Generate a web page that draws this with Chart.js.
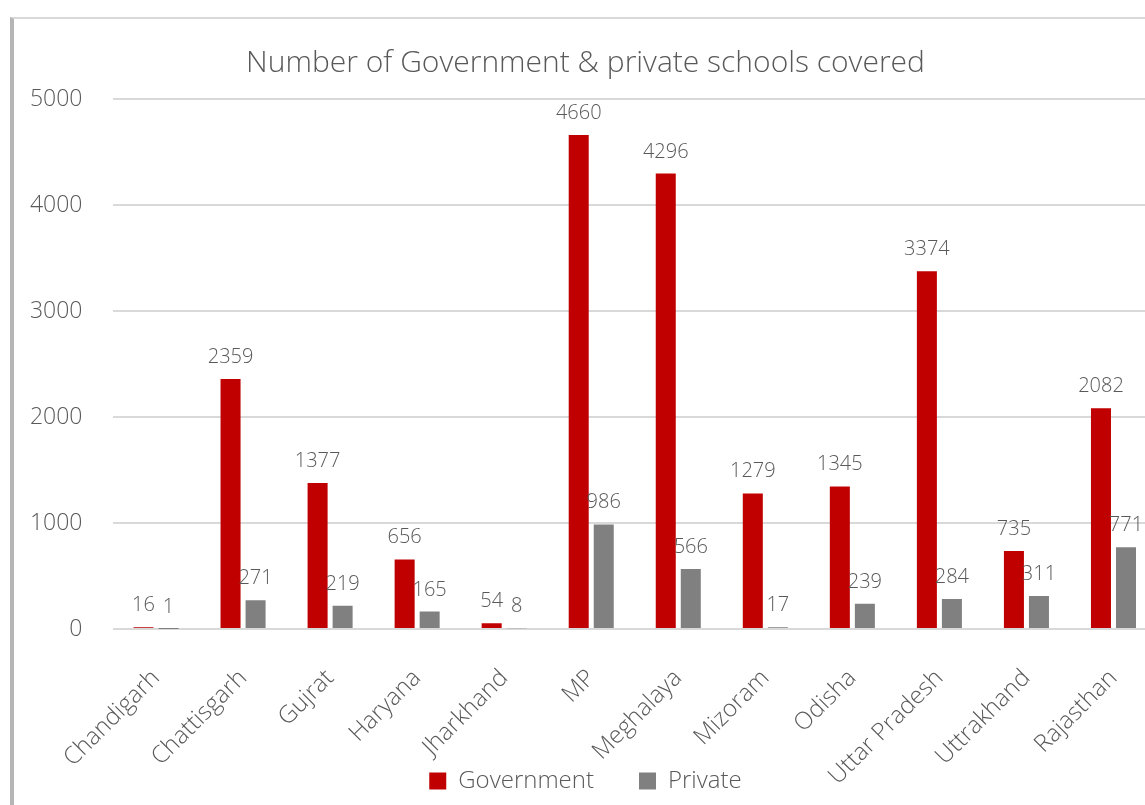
<!DOCTYPE html>
<html>
<head>
<meta charset="utf-8">
<script src="https://cdn.jsdelivr.net/npm/chart.js@4.4.1/dist/chart.umd.min.js"></script>
<style>
  html, body { margin: 0; padding: 0; background: #ffffff; width: 1145px; height: 805px; overflow: hidden; position: relative; }
  #frame { position: absolute; left: 10px; top: 17px; width: 1200px; height: 900px; border-top: 2px solid #d9d9d9; border-left: 4px solid #b5b5b5; box-sizing: border-box; }
  #c { position: absolute; left: 14px; top: 19px; }
</style>
</head>
<body>
<div id="frame"></div>
<canvas id="c" width="1143" height="784"></canvas>
<script>
const categories = ["Chandigarh", "Chattisgarh", "Gujrat", "Haryana", "Jharkhand", "MP", "Meghalaya", "Mizoram", "Odisha", "Uttar Pradesh", "Uttrakhand", "Rajasthan"];
const governmentValues = [16, 2359, 1377, 656, 54, 4660, 4296, 1279, 1345, 3374, 735, 2082];
const privateValues = [1, 271, 219, 165, 8, 986, 566, 17, 239, 284, 311, 771];
const yTicks = [0, 1000, 2000, 3000, 4000, 5000];
const chartTitle = "Number of Government & private schools covered";

const FONT = "'Open Sans', 'Noto Sans', sans-serif";
const TEXT = "#595959";

const dataLabels = {
  id: 'dataLabels',
  afterDatasetsDraw(chart) {
    const ctx = chart.ctx;
    ctx.save();
    ctx.font = "300 20px " + FONT;
    ctx.fillStyle = TEXT;
    ctx.textAlign = 'center';
    ctx.textBaseline = 'alphabetic';
    chart.data.datasets.forEach((ds, di) => {
      const meta = chart.getDatasetMeta(di);
      meta.data.forEach((bar, i) => {
        ctx.fillText(String(ds.data[i]), bar.x, bar.y - 16);
      });
    });
    ctx.restore();
  }
};

new Chart(document.getElementById('c'), {
  type: 'bar',
  data: {
    labels: categories,
    datasets: [
      { label: 'Government', data: governmentValues, backgroundColor: '#C00000', categoryPercentage: 0.575, barPercentage: 0.8 },
      { label: 'Private', data: privateValues, backgroundColor: '#808080', categoryPercentage: 0.575, barPercentage: 0.8 }
    ]
  },
  options: {
    responsive: false,
    devicePixelRatio: 1,
    animation: false,
    layout: { padding: 0 },
    plugins: {
      title: {
        display: true,
        text: chartTitle,
        color: TEXT,
        font: { family: FONT, size: 30, weight: '300' },
        padding: { top: 26, bottom: 18 }
      },
      legend: {
        position: 'bottom',
        labels: {
          color: TEXT,
          font: { family: FONT, size: 24, weight: '300' },
          boxWidth: 17,
          boxHeight: 17,
          padding: 45
        }
      },
      tooltip: { enabled: false }
    },
    scales: {
      x: {
        grid: { display: false },
        border: { display: false },
        ticks: {
          color: TEXT,
          font: { family: FONT, size: 24, weight: '300' },
          maxRotation: 45,
          minRotation: 45,
          autoSkip: false,
          padding: 27
        },
        afterFit(scale) {
          scale.height = 95;
          scale.paddingLeft = 0;
          scale.paddingRight = 0;
          scale._computeLabelArea = () => undefined;
        }
      },
      y: {
        min: 0,
        max: 5000,
        afterBuildTicks(scale) { scale.ticks = yTicks.map(v => ({ value: v })); },
        grid: { color: '#d9d9d9', lineWidth: 2, drawTicks: false },
        border: { display: false },
        ticks: {
          color: TEXT,
          font: { family: FONT, size: 23, weight: '300' },
          padding: 30,
          callback: (v) => String(v)
        },
        afterFit(scale) { scale.width = 98.5; }
      }
    }
  },
  plugins: [dataLabels]
});
</script>
</body>
</html>
